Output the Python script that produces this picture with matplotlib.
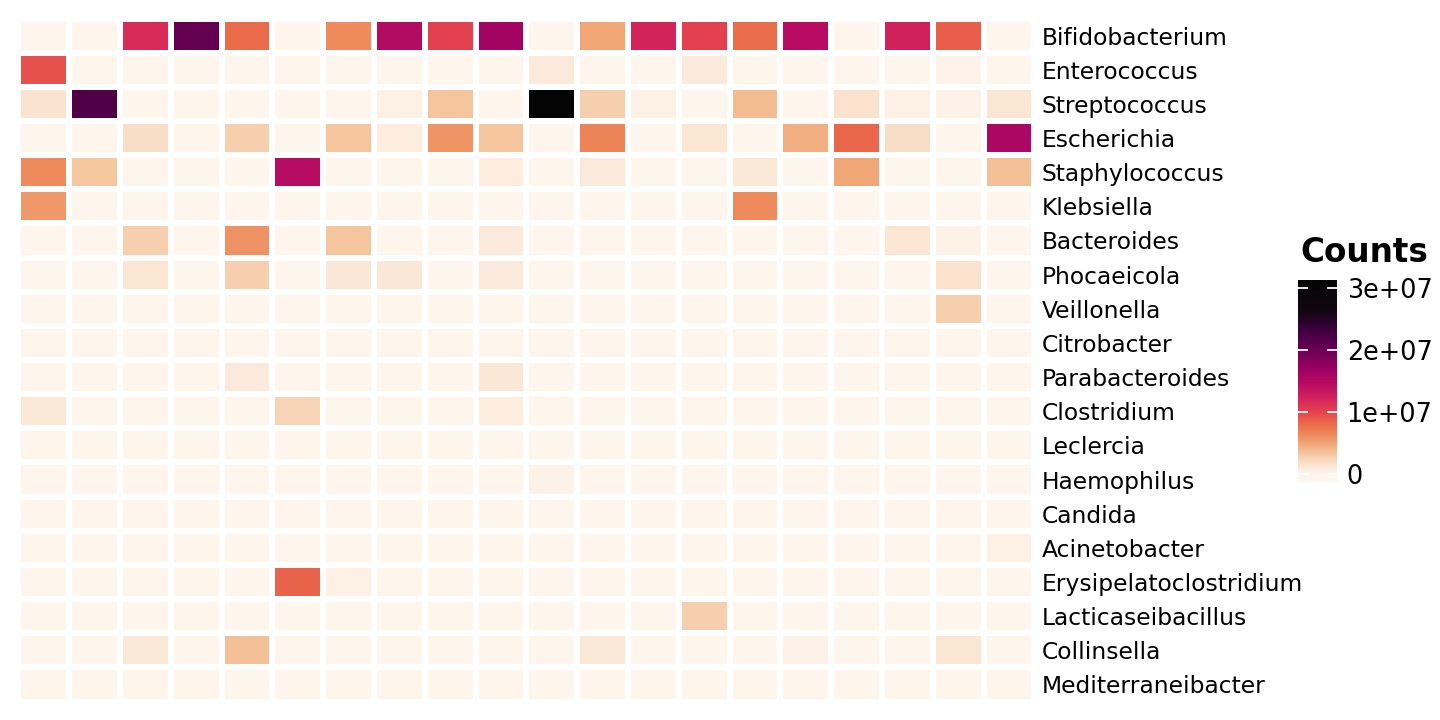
import numpy as np
import matplotlib
matplotlib.use("Agg")
import matplotlib.pyplot as plt
from matplotlib.colors import LinearSegmentedColormap, Normalize

genera = ["Bifidobacterium", "Enterococcus", "Streptococcus", "Escherichia",
          "Staphylococcus", "Klebsiella", "Bacteroides", "Phocaeicola",
          "Veillonella", "Citrobacter", "Parabacteroides", "Clostridium",
          "Leclercia", "Haemophilus", "Candida", "Acinetobacter",
          "Erysipelatoclostridium", "Lacticaseibacillus", "Collinsella",
          "Mediterraneibacter"]

b = 2e5  # background (low) counts
bifidobacterium = [b, b, 1.16e7, 2.05e7, 8.1e6, b, 6.3e6, 1.5e7, 1.02e7, 1.63e7,
                   b, 4.9e6, 1.22e7, 1.02e7, 8.0e6, 1.46e7, b, 1.24e7, 8.8e6, b]
enterococcus = [9.4e6, b, b, b, b, b, b, b, b, b,
                1.0e6, b, b, 1.0e6, b, b, b, b, 3e5, b]
streptococcus = [1.56e6, 2.2e7, b, b, b, b, b, 6e5, 3.4e6, b,
                 3.13e7, 2.7e6, 6e5, b, 3.9e6, b, 1.7e6, 6e5, 4e5, 1.4e6]
escherichia = [b, b, 1.9e6, b, 2.7e6, b, 3.4e6, 8e5, 5.8e6, 3.4e6,
               b, 6.7e6, b, 1.4e6, b, 4.5e6, 8.4e6, 1.9e6, b, 1.56e7]
staphylococcus = [6.3e6, 3.3e6, b, b, b, 1.46e7, b, b, b, 8e5,
                  b, 1.0e6, b, b, 1.2e6, b, 4.9e6, b, b, 3.6e6]
klebsiella = [5.6e6, b, b, b, b, b, b, b, b, b,
              b, b, b, b, 6.3e6, b, b, b, b, b]
bacteroides = [b, b, 2.7e6, b, 5.9e6, b, 3.4e6, b, b, 1.0e6,
               b, b, b, b, b, b, b, 1.4e6, 4e5, b]
phocaeicola = [b, b, 1.4e6, b, 2.8e6, b, 1.3e6, 1.3e6, b, 1.0e6,
               b, b, b, b, b, b, b, b, 1.6e6, b]
veillonella = [b, b, b, b, b, b, b, b, b, b,
               b, b, b, b, b, b, b, b, 2.7e6, b]
citrobacter = [b] * 20
parabacteroides = [b, b, b, b, 1.0e6, b, b, b, b, 1.3e6,
                   b, b, b, b, b, b, b, b, b, b]
clostridium = [1.2e6, b, b, b, b, 2.5e6, b, b, b, 8e5,
               b, b, b, b, b, b, b, b, b, b]
leclercia = [b] * 20
haemophilus = [b, b, b, b, b, b, b, b, b, b,
               4e5, b, b, b, b, b, b, b, b, b]
candida = [b] * 20
acinetobacter = [b, b, b, b, b, b, b, b, b, b,
                 b, b, b, b, b, b, b, b, b, 5e5]
erysipelatoclostridium = [b, b, b, b, b, 8.5e6, 6e5, b, b, b,
                          b, b, b, b, b, b, b, b, b, b]
lacticaseibacillus = [b, b, b, b, b, b, b, b, b, b,
                      b, b, b, 2.8e6, b, b, b, b, b, b]
collinsella = [b, b, 1.2e6, b, 3.6e6, b, b, b, b, b,
               b, 1.2e6, b, b, b, 4e5, b, b, 1.4e6, b]
mediterraneibacter = [b] * 20

rows = [bifidobacterium, enterococcus, streptococcus, escherichia, staphylococcus,
        klebsiella, bacteroides, phocaeicola, veillonella, citrobacter,
        parabacteroides, clostridium, leclercia, haemophilus, candida,
        acinetobacter, erysipelatoclostridium, lacticaseibacillus, collinsella,
        mediterraneibacter]

cbar_ticks = [0, 1e7, 2e7, 3e7]
cbar_labels = ["0", "1e+07", "2e+07", "3e+07"]
vmax = 3.13e7

anchors = [(0.00, "#FEF6EE"), (0.05, "#FAE3CF"), (0.10, "#F5C9A2"),
           (0.15, "#F1AA7A"), (0.20, "#EE8A5C"), (0.26, "#EA6A4A"),
           (0.32, "#E4434E"), (0.38, "#D6265A"), (0.46, "#BA0C62"),
           (0.54, "#9C0262"), (0.64, "#6A0052"), (0.74, "#3E0040"),
           (0.84, "#120810"), (1.00, "#050505")]
cmap = LinearSegmentedColormap.from_list("counts", anchors)
norm = Normalize(vmin=0, vmax=vmax)

data = np.array(rows)
W, H = 1440, 720
fig = plt.figure(figsize=(W / 100, H / 100), dpi=100)

ax = fig.add_axes([18.3 / W, 1 - 701.5 / H, (1034.3 - 18.3) / W, (701.5 - 18.5) / H])
nr, nc = data.shape
ax.pcolormesh(np.arange(nc + 1), np.arange(nr + 1), data, cmap=cmap, norm=norm,
              edgecolor="white", linewidth=4.0)
ax.set_xlim(0, nc)
ax.set_ylim(nr, 0)
ax.set_xticks([])
ax.set_yticks(np.arange(nr) + 0.5)
ax.set_yticklabels(genera, fontsize=16.8, family="DejaVu Sans")
ax.yaxis.tick_right()
ax.tick_params(axis="y", length=0, pad=5.5)
for s in ax.spines.values():
    s.set_visible(False)

# colorbar
y_lo, y_hi = -0.125e7, vmax
cax = fig.add_axes([1298 / W, 1 - 482 / H, 39 / W, (482 - 280) / H])
grad = np.linspace(y_lo, y_hi, 400).reshape(-1, 1)
cax.imshow(grad, cmap=cmap, norm=norm, aspect="auto", origin="lower",
           extent=[0, 1, y_lo, y_hi])
cax.set_xlim(0, 1)
cax.set_ylim(y_lo, y_hi)
for t in cbar_ticks:
    cax.plot([0, 0.22], [t, t], color="white", lw=1.3)
    cax.plot([0.78, 1], [t, t], color="white", lw=1.3)
cax.set_xticks([])
cax.set_yticks(cbar_ticks)
cax.set_yticklabels(cbar_labels, fontsize=18.4)
cax.yaxis.tick_right()
cax.tick_params(axis="y", length=0, pad=7)
for s in cax.spines.values():
    s.set_visible(False)
fig.text(1300 / W, 1 - 252 / H, "Counts", fontsize=23.5, fontweight="bold",
         ha="left", va="center")

fig.savefig("out.png", dpi=100, facecolor="white")
